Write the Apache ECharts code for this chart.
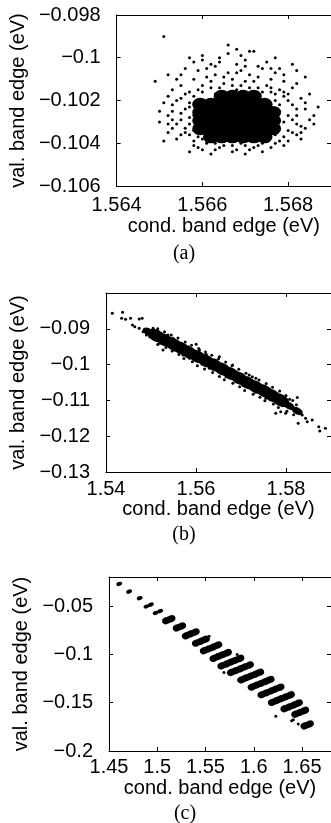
<!DOCTYPE html>
<html>
<head>
<meta charset="utf-8">
<script src="https://cdn.jsdelivr.net/npm/echarts@6/dist/echarts.min.js"></script>
<style>
html,body{margin:0;padding:0;background:#fff;}
#chart{width:331px;height:823px;}
</style>
</head>
<body>
<div id="chart"></div>
<script>
// ---- panel (a) ----
var xTicksA = [1.564, 1.566, 1.568], xMaxA = 1.569;
var yTicksA = [-0.106, -0.104, -0.102, -0.1, -0.098], yMaxA = -0.098;
// dense centre of the cloud
var coreA = [
	[1.56645,-0.10180],[1.56670,-0.10180],[1.56695,-0.10180],[1.56720,-0.10180],
	[1.56595,-0.10218],[1.56620,-0.10218],[1.56645,-0.10218],[1.56670,-0.10218],[1.56695,-0.10218],[1.56720,-0.10218],[1.56745,-0.10218],
	[1.56595,-0.10256],[1.56620,-0.10256],[1.56645,-0.10256],[1.56670,-0.10256],[1.56695,-0.10256],[1.56720,-0.10256],[1.56745,-0.10256],[1.56765,-0.10256],
	[1.56595,-0.10294],[1.56620,-0.10294],[1.56645,-0.10294],[1.56670,-0.10294],[1.56695,-0.10294],[1.56720,-0.10294],[1.56745,-0.10294],[1.56765,-0.10294],
	[1.56595,-0.10332],[1.56620,-0.10332],[1.56645,-0.10332],[1.56670,-0.10332],[1.56695,-0.10332],[1.56720,-0.10332],[1.56745,-0.10332],[1.56765,-0.10332],
	[1.56620,-0.10370],[1.56645,-0.10370],[1.56670,-0.10370],[1.56695,-0.10370],[1.56720,-0.10370],[1.56745,-0.10370]
];
// single points round it
var haloA = [
	[1.5657,-0.1016],[1.5660,-0.1013],[1.5663,-0.1017],[1.5665,-0.1012],[1.5668,-0.1015],[1.5670,-0.1011],[1.5672,-0.1016],
	[1.5675,-0.1013],[1.5677,-0.1017],[1.5661,-0.1009],[1.5666,-0.1007],[1.5671,-0.1008],[1.5674,-0.1005],[1.5659,-0.1006],[1.5679,-0.1011],
	[1.5657,-0.1000],[1.5658,-0.1002],[1.5660,-0.1001],[1.5662,-0.1003],[1.5663,-0.1004],[1.5664,-0.1002],[1.5666,-0.0998],
	[1.5668,-0.1003],[1.5670,-0.1001],[1.5671,-0.0997],[1.5673,-0.1004],[1.5675,-0.1002],[1.5678,-0.1005],[1.5681,-0.1003],
	[1.5656,-0.1005],[1.5684,-0.1009],
	[1.5651,-0.0990],[1.5666,-0.0994],[1.5668,-0.0996],[1.5672,-0.0997],
	[1.5655,-0.1019],[1.5653,-0.1022],[1.5656,-0.1024],[1.5652,-0.1027],[1.5655,-0.1029],[1.5657,-0.1031],[1.5653,-0.1033],
	[1.5656,-0.1035],[1.5654,-0.1038],[1.5658,-0.1039],[1.5651,-0.1021],[1.5650,-0.1030],[1.5657,-0.1021],[1.5658,-0.1027],[1.5658,-0.1034],
	[1.5649,-0.1011],[1.5652,-0.1008],[1.5654,-0.1010],[1.5651,-0.1039],[1.5652,-0.1035],[1.5650,-0.1025],
	[1.5659,-0.1042],[1.5661,-0.1040],[1.5663,-0.1043],[1.5665,-0.1041],[1.5667,-0.1044],[1.5669,-0.1040],[1.5671,-0.1043],
	[1.5673,-0.1041],[1.5676,-0.1042],[1.5678,-0.1039],[1.5662,-0.1045],[1.5670,-0.1045],[1.5674,-0.1044],[1.5657,-0.1044],
	[1.5660,-0.1038],[1.5666,-0.1038],[1.5672,-0.1038],[1.5675,-0.1038],
	[1.5677,-0.1020],[1.5679,-0.1018],[1.5681,-0.1022],[1.5678,-0.1025],[1.5682,-0.1027],[1.5679,-0.1030],[1.5683,-0.1032],
	[1.5680,-0.1034],[1.5682,-0.1036],[1.5679,-0.1037],[1.5684,-0.1024],[1.5681,-0.1014],[1.5685,-0.1029],[1.5683,-0.1019],
	[1.5677,-0.1033],[1.5676,-0.1028],[1.5687,-0.1023],[1.5686,-0.1027],
	[1.5658,-0.1018],[1.5660,-0.1016],[1.5676,-0.1016],[1.5678,-0.1022],[1.5659,-0.1037],[1.5677,-0.1036],
	[1.5664,-0.1014],[1.5669,-0.1013],[1.5673,-0.1014],
	[1.5659,-0.1015],[1.5662,-0.1014],[1.5664,-0.1016],[1.5667,-0.1013],[1.5669,-0.1016],[1.5671,-0.1014],[1.5674,-0.1016],
	[1.5676,-0.1014],[1.5678,-0.1015],[1.5680,-0.1017],[1.5662,-0.1011],[1.5667,-0.1010],[1.5672,-0.1011],[1.5676,-0.1010],
	[1.5663,-0.1008],[1.5669,-0.1006],[1.5677,-0.1007],[1.5682,-0.1012],
	[1.5655,-0.1008],[1.5658,-0.1010],[1.5661,-0.1005],[1.5665,-0.1009],[1.5668,-0.1007],[1.5670,-0.1004],[1.5673,-0.1009],
	[1.5676,-0.1005],[1.5679,-0.1008],[1.5682,-0.1006],[1.5664,-0.1000],[1.5669,-0.0999],[1.5660,-0.0999],[1.5677,-0.1000],
	[1.5656,-0.1017],[1.5654,-0.1020],[1.5657,-0.1023],[1.5655,-0.1026],[1.5657,-0.1028],[1.5654,-0.1031],[1.5656,-0.1033],
	[1.5657,-0.1036],[1.5655,-0.1036],[1.5653,-0.1025],[1.5653,-0.1029],[1.5652,-0.1031],[1.5652,-0.1018],[1.5653,-0.1015],[1.5655,-0.1013],
	[1.5658,-0.1041],[1.5660,-0.1043],[1.5663,-0.1040],[1.5664,-0.1042],[1.5667,-0.1041],[1.5668,-0.1043],[1.5670,-0.1041],
	[1.5672,-0.1042],[1.5674,-0.1040],[1.5677,-0.1040],[1.5679,-0.1041],[1.5665,-0.1039],[1.5669,-0.1038],[1.5662,-0.1038],
	[1.5679,-0.1016],[1.5680,-0.1020],[1.5682,-0.1024],[1.5680,-0.1027],[1.5681,-0.1029],[1.5682,-0.1031],[1.5681,-0.1035],
	[1.5683,-0.1035],[1.5684,-0.1033],[1.5684,-0.1021],[1.5685,-0.1017],[1.5686,-0.1031],[1.5683,-0.1038],[1.5680,-0.1039]
];

// ---- panel (b) ----
var xTicksB = [1.54, 1.56, 1.58], xMaxB = 1.59;
var yTicksB = [-0.13, -0.12, -0.11, -0.1, -0.09], yMaxB = -0.08;
var coreB = [
	[1.55120,-0.09193],[1.55304,-0.09313],[1.55487,-0.09425],[1.55673,-0.09545],[1.55856,-0.09668],
	[1.56040,-0.09779],[1.56225,-0.09899],[1.56409,-0.10011],[1.56592,-0.10131],[1.56778,-0.10254],
	[1.56961,-0.10383],[1.57145,-0.10506],[1.57330,-0.10626],[1.57514,-0.10737],[1.57697,-0.10869],
	[1.57883,-0.10997]
];
var coreEndsB = [
	[1.54935,-0.09081],[1.55000,-0.09120],[1.58066,-0.11148],[1.58250,-0.11296]
];
var dotsB = [
	[1.54140,-0.08568],[1.54368,-0.08540],[1.54346,-0.08708],[1.54435,-0.08736],[1.54545,-0.08708],[1.54737,-0.08726],
	[1.54803,-0.08708],[1.54589,-0.08894],[1.54641,-0.08940],[1.54737,-0.08987],[1.54825,-0.09080],[1.54935,-0.09081],
	[1.55267,-0.09592],[1.55488,-0.09266],[1.56004,-0.09434],[1.55193,-0.09406],[1.58250,-0.10918],[1.58272,-0.11641],
	[1.58582,-0.11547],[1.58729,-0.11734],[1.58877,-0.11780],[1.58751,-0.11855],[1.58435,-0.11501],[1.58361,-0.11408],
	[1.57772,-0.11361],[1.57882,-0.11315],[1.57551,-0.10942],[1.57330,-0.10384],[1.57698,-0.10756],[1.57845,-0.11035],
	[1.57993,-0.10989],[1.55709,-0.09732],[1.55599,-0.09359],[1.55046,-0.08987],[1.54972,-0.09220],[1.54899,-0.09173],
	[1.56298,-0.10104],[1.56519,-0.09778],[1.56814,-0.10011],[1.56667,-0.10337],[1.57035,-0.10570],[1.57182,-0.10291],
	[1.56077,-0.09592],[1.55856,-0.09825],[1.57993,-0.11361],[1.58103,-0.11222],[1.58472,-0.11594],[1.55378,-0.09173],
	[1.56225,-0.09713],[1.56888,-0.10244],[1.57477,-0.10663],
	[1.5515,-0.0900],[1.5515,-0.0944],[1.5530,-0.0908],[1.5533,-0.0952],[1.5545,-0.0917],[1.5547,-0.0962],
	[1.5560,-0.0926],[1.5562,-0.0972],[1.5576,-0.0937],[1.5573,-0.0983],[1.5590,-0.0946],[1.5592,-0.0992],
	[1.5606,-0.0955],[1.5603,-0.1003],[1.5621,-0.0965],[1.5619,-0.1012],[1.5635,-0.0974],[1.5637,-0.1022],
	[1.5650,-0.0984],[1.5652,-0.1033],[1.5666,-0.0993],[1.5663,-0.1042],[1.5680,-0.1003],[1.5682,-0.1052],
	[1.5695,-0.1013],[1.5697,-0.1062],[1.5711,-0.1024],[1.5708,-0.1072],[1.5725,-0.1034],[1.5727,-0.1083],
	[1.5740,-0.1043],[1.5742,-0.1091],[1.5756,-0.1053],[1.5753,-0.1101],[1.5770,-0.1063],[1.5772,-0.1110],
	[1.5786,-0.1074],[1.5783,-0.1120],[1.5800,-0.1086],[1.5802,-0.1130],[1.5815,-0.1100],[1.5817,-0.1140],
	[1.5523,-0.0913],[1.5553,-0.0960],[1.5583,-0.0950],[1.5613,-0.0998],[1.5643,-0.0988],[1.5673,-0.1036],
	[1.5703,-0.1028],[1.5733,-0.1077],[1.5763,-0.1068],[1.5793,-0.1115],[1.5823,-0.1112],[1.5808,-0.1097]
];

// ---- panel (c) ----
var xTicksC = [1.45, 1.5, 1.55, 1.6, 1.65], xMaxC = 1.68;
var yTicksC = [-0.2, -0.15, -0.1, -0.05], yMaxC = -0.02;
var blobsSmallC = [
	[1.4606,-0.0272],[1.4708,-0.0351],[1.4818,-0.0419],
	[1.4888,-0.0505],[1.4934,-0.0486],[1.4983,-0.0572],[1.5030,-0.0553]
];
var blobsC = [
	[1.5096,-0.0651],[1.5143,-0.0632],
	[1.5206,-0.0726],[1.5253,-0.0707],
	[1.5300,-0.0807],[1.5347,-0.0788],[1.5394,-0.0769],
	[1.5405,-0.0883],[1.5452,-0.0864],[1.5499,-0.0845],
	[1.5487,-0.0961],[1.5534,-0.0942],[1.5581,-0.0923],[1.5628,-0.0904],
	[1.5587,-0.1040],[1.5634,-0.1021],[1.5681,-0.1002],[1.5728,-0.0983],
	[1.5669,-0.1118],[1.5716,-0.1099],[1.5763,-0.1080],[1.5810,-0.1061],[1.5857,-0.1042],
	[1.5768,-0.1186],[1.5815,-0.1167],[1.5862,-0.1148],[1.5909,-0.1129],[1.5956,-0.1110],
	[1.5874,-0.1262],[1.5921,-0.1243],[1.5968,-0.1224],[1.6015,-0.1205],[1.6062,-0.1186],
	[1.5982,-0.1337],[1.6029,-0.1318],[1.6076,-0.1299],[1.6123,-0.1280],[1.6170,-0.1261],
	[1.6085,-0.1416],[1.6132,-0.1397],[1.6179,-0.1378],[1.6226,-0.1359],[1.6273,-0.1340],
	[1.6192,-0.1496],[1.6239,-0.1477],[1.6286,-0.1458],[1.6333,-0.1439],[1.6380,-0.1420],
	[1.6322,-0.1561],[1.6369,-0.1542],[1.6416,-0.1523],[1.6463,-0.1504],
	[1.6434,-0.1618],[1.6481,-0.1599],[1.6528,-0.1580],
	[1.6530,-0.1740],[1.6577,-0.1721]
];
var dotsC = [
	[1.5691,-0.1189],[1.5828,-0.1001],[1.6228,-0.1640],[1.6410,-0.1678],[1.6461,-0.1720],
	[1.5537,-0.0813],[1.6392,-0.1686]
];

var labelFont = "'Liberation Sans', Arial, Helvetica, sans-serif";
var capFont = "'Liberation Serif', 'Times New Roman', serif";

function fmt(v) {
	var s = String(+Math.abs(v).toFixed(6));
	return v < 0 ? '\u2212' + s : s;
}

// one labelled axis and a bare twin on the opposite side, so the box gets ticks all round
function boxAxes(dim, grid, ticks, max, name, gap, margin, showMax) {
	var main = {
		type: 'value', gridIndex: grid,
		min: ticks[0], max: max, interval: ticks[1] - ticks[0],
		position: dim == 'x' ? 'bottom' : 'left',
		axisLine: { show: true, onZero: false, lineStyle: { color: '#000', width: 1 } },
		axisTick: { show: true, inside: true, length: 4, lineStyle: { color: '#000' } },
		axisLabel: { show: true, color: '#000', fontFamily: labelFont, fontSize: 20, margin: margin,
			showMinLabel: true, showMaxLabel: showMax, hideOverlap: false, formatter: fmt },
		splitLine: { show: false },
		name: name, nameLocation: 'middle', nameGap: gap,
		nameTextStyle: { color: '#000', fontFamily: labelFont, fontSize: 20 }
	};
	var twin = {
		type: 'value', gridIndex: grid,
		min: ticks[0], max: max, interval: ticks[1] - ticks[0],
		position: dim == 'x' ? 'top' : 'right',
		axisLine: { show: true, onZero: false, lineStyle: { color: '#000', width: 1 } },
		axisTick: { show: true, inside: true, length: 4, lineStyle: { color: '#000' } },
		axisLabel: { show: false },
		splitLine: { show: false }
	};
	return [main, twin];
}

var xAxes = [].concat(
	boxAxes('x', 0, xTicksA, xMaxA, 'cond. band edge (eV)', 30, 9, false),
	boxAxes('x', 1, xTicksB, xMaxB, 'cond. band edge (eV)', 25, 7, false),
	boxAxes('x', 2, xTicksC, xMaxC, 'cond. band edge (eV)', 27, 6, false)
);
var yAxes = [].concat(
	boxAxes('y', 0, yTicksA, yMaxA, 'val. band edge (eV)', 78, 16, true),
	boxAxes('y', 1, yTicksB, yMaxB, 'val. band edge (eV)', 70, 16, false),
	boxAxes('y', 2, yTicksC, yMaxC, 'val. band edge (eV)', 73, 16, false)
);

var ellipse = 'path://M0,5a5,5 0 1,0 10,0a5,5 0 1,0 -10,0';

function dots(idx, data, size, symbol, rotate) {
	return {
		type: 'scatter', xAxisIndex: idx * 2, yAxisIndex: idx * 2,
		data: data, symbol: symbol || 'circle', symbolSize: size, symbolRotate: rotate || 0,
		itemStyle: { color: '#000', opacity: 1, borderWidth: 0 },
		emphasis: { disabled: true }, silent: true, animation: false
	};
}

var chart = echarts.init(document.getElementById('chart'), null, { renderer: 'canvas' });
chart.setOption({
	backgroundColor: '#fff',
	animation: false,
	grid: [
		{ left: 114, top: 15, width: 219, height: 171 },
		{ left: 106, top: 293, width: 226, height: 179 },
		{ left: 109, top: 577, width: 224, height: 174 }
	],
	xAxis: xAxes,
	yAxis: yAxes,
	series: [
		dots(0, coreA, [16, 13], ellipse),
		dots(0, haloA, 3),
		dots(1, coreB, [18, 12], ellipse, -28),
		dots(1, coreEndsB, [12, 7], ellipse, -28),
		dots(1, dotsB, 3),
		dots(2, blobsSmallC, [6, 4], ellipse, 22),
		dots(2, blobsC, [9, 7], ellipse, 22),
		dots(2, dotsC, 3)
	],
	graphic: [
		{ type: 'text', x: 184, y: 254, style: { text: '(a)', font: '20px ' + capFont, fill: '#000', align: 'center', verticalAlign: 'middle' } },
		{ type: 'text', x: 184, y: 535, style: { text: '(b)', font: '20px ' + capFont, fill: '#000', align: 'center', verticalAlign: 'middle' } },
		{ type: 'text', x: 185, y: 814, style: { text: '(c)', font: '20px ' + capFont, fill: '#000', align: 'center', verticalAlign: 'middle' } }
	]
});
</script>
</body>
</html>
